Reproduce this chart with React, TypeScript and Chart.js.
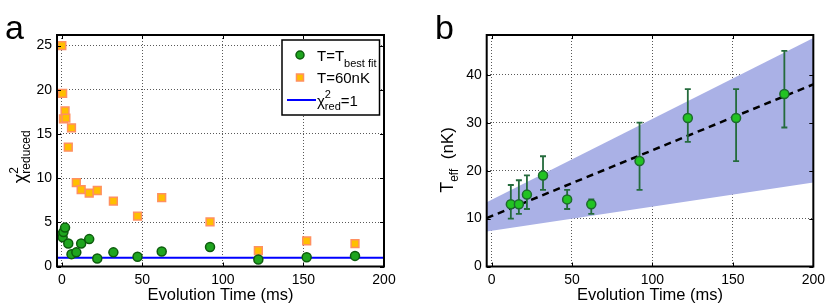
import React, { useEffect, useRef } from "react";
import { Chart, registerables } from "chart.js";
Chart.register(...registerables);

const FONT = '"Liberation Sans", Arial, Helvetica, sans-serif';

// ---------- Panel a data ----------
const timesBest = [0, 0.5, 1, 2, 4, 6, 9, 12, 17, 22, 32, 47, 62, 92, 122, 152, 182];
const chiBestFit = [3.6, 3.3, 3.9, 4.4, 2.6, 1.4, 1.6, 2.6, 3.1, 0.9, 1.6, 1.1, 1.7, 2.2, 0.8, 1.05, 1.2];
const times60 = [0, 0.5, 1, 2, 2.5, 4, 6, 9, 12, 17, 22, 32, 47, 62, 92, 122, 152, 182];
const chi60nK = [25.0, 19.6, 16.7, 17.6, 16.8, 13.5, 15.7, 9.5, 8.7, 8.3, 8.6, 7.4, 5.7, 7.8, 5.05, 1.8, 2.9, 2.6];
const refLineX = [-3, 200];
const chiRef = 1;
const xTicks = [0, 50, 100, 150, 200];
const yTicksA = [0, 5, 10, 15, 20, 25];

// ---------- Panel b data ----------
const timesB = [12, 17, 22, 32, 47, 62, 92, 122, 152, 182];
const teff = [13, 13, 15, 19, 14, 13, 22, 31, 31, 36];
const teffLow = [10, 11, 12, 16, 12, 11, 16, 26, 22, 29];
const teffHigh = [17, 18, 19, 23, 16, 14, 30, 37, 37, 45];
const fitX = [-3, 200];
const fitY = [10.1, 38.0];
const bandUpper = [13.4, 47.7];
const bandLower = [7.3, 17.5];
const yTicksB = [0, 10, 20, 30, 40];

type Part = { t: string; size: number; dy?: number; stack?: boolean };

function drawRich(ctx: CanvasRenderingContext2D, parts: Part[], x: number, y: number, align: "left" | "center") {
  const ws = parts.map((p) => {
    ctx.font = `${p.size}px ${FONT}`;
    return ctx.measureText(p.t).width;
  });
  const pos: number[] = [];
  let cursor = 0;
  let held = 0;
  parts.forEach((p, k) => {
    pos.push(cursor);
    if (p.stack) held = Math.max(held, ws[k]);
    else {
      cursor += Math.max(held, ws[k]);
      held = 0;
    }
  });
  const total = cursor + held;
  const start = align === "center" ? x - total / 2 : x;
  ctx.textAlign = "left";
  ctx.textBaseline = "alphabetic";
  ctx.fillStyle = "#000";
  parts.forEach((p, k) => {
    ctx.font = `${p.size}px ${FONT}`;
    ctx.fillText(p.t, start + pos[k], y + (p.dy || 0));
  });
}

function frameAndTicks(chart: any, yTicks: number[]) {
  const ctx: CanvasRenderingContext2D = chart.ctx;
  const { left, right, top, bottom } = chart.chartArea;
  const xs = chart.scales.x;
  const ys = chart.scales.y;
  ctx.save();
  ctx.strokeStyle = "#000";
  ctx.lineWidth = 1;
  const tl = 4;
  ctx.beginPath();
  xTicks.forEach((v) => {
    const px = Math.round(xs.getPixelForValue(v)) + 0.5;
    ctx.moveTo(px, bottom);
    ctx.lineTo(px, bottom - tl);
    ctx.moveTo(px, top);
    ctx.lineTo(px, top + tl);
  });
  yTicks.forEach((v) => {
    const py = Math.round(ys.getPixelForValue(v)) + 0.5;
    ctx.moveTo(left, py);
    ctx.lineTo(left + tl, py);
    ctx.moveTo(right, py);
    ctx.lineTo(right - tl, py);
  });
  ctx.stroke();
  ctx.lineWidth = 2;
  ctx.strokeRect(left, top, right - left, bottom - top);
  ctx.restore();
}

function axisOpts(min: number, max: number, ticks: number[], isX: boolean, size: number) {
  return {
    type: "linear",
    min,
    max,
    afterBuildTicks: (s: any) => {
      s.ticks = ticks.map((v) => ({ value: v }));
    },
    afterFit: (s: any) => {
      if (isX) s.height = size;
      else s.width = size;
    },
    grid: { display: true, drawTicks: false, color: "rgba(0,0,0,0.65)", lineWidth: 1 },
    border: { display: false, dash: [1, 2] },
    ticks: {
      color: "#000",
      font: { family: FONT, size: 14 },
      padding: 5,
      maxRotation: 0,
      autoSkip: false,
    },
  };
}

export default function App() {
  const refA = useRef<HTMLCanvasElement>(null);
  const refB = useRef<HTMLCanvasElement>(null);

  useEffect(() => {
    const decorA = {
      id: "decorA",
      afterDraw(chart: any) {
        const ctx: CanvasRenderingContext2D = chart.ctx;
        const { left, right, top, bottom } = chart.chartArea;
        frameAndTicks(chart, yTicksA);
        ctx.save();
        drawRich(ctx, [{ t: "Evolution Time (ms)", size: 16.5 }], (left + right) / 2, 300, "center");
        ctx.save();
        ctx.translate(26, (top + bottom) / 2 + 6);
        ctx.rotate(-Math.PI / 2);
        drawRich(
          ctx,
          [
            { t: "\u03c7", size: 18 },
            { t: "2", size: 12, dy: -8, stack: true },
            { t: "reduced", size: 12, dy: 4 },
          ],
          0,
          0,
          "center"
        );
        ctx.restore();
        ctx.font = `34px ${FONT}`;
        ctx.fillStyle = "#000";
        ctx.textAlign = "left";
        ctx.textBaseline = "alphabetic";
        ctx.fillText("a", 5, 39);
        // legend
        const lx0 = 282, lx1 = 379.5, ly0 = 40, ly1 = 115;
        ctx.fillStyle = "#fff";
        ctx.fillRect(lx0, ly0, lx1 - lx0, ly1 - ly0);
        ctx.strokeStyle = "#000";
        ctx.lineWidth = 1.5;
        ctx.strokeRect(lx0, ly0, lx1 - lx0, ly1 - ly0);
        ctx.beginPath();
        ctx.arc(300, 55, 4, 0, Math.PI * 2);
        ctx.fillStyle = "#1fa51f";
        ctx.fill();
        ctx.lineWidth = 1.5;
        ctx.strokeStyle = "#0d5c0d";
        ctx.stroke();
        drawRich(ctx, [{ t: "T=T", size: 15 }, { t: "best fit", size: 11, dy: 6 }], 317, 61, "left");
        ctx.fillStyle = "#ffbf00";
        ctx.strokeStyle = "#ff9060";
        ctx.lineWidth = 1.5;
        ctx.fillRect(296.5, 74, 7, 7);
        ctx.strokeRect(296.5, 74, 7, 7);
        drawRich(ctx, [{ t: "T=60nK", size: 15 }], 317, 83, "left");
        ctx.beginPath();
        ctx.moveTo(287, 100);
        ctx.lineTo(316, 100);
        ctx.strokeStyle = "#0000ff";
        ctx.lineWidth = 2;
        ctx.stroke();
        drawRich(
          ctx,
          [
            { t: "\u03c7", size: 15 },
            { t: "2", size: 11, dy: -8, stack: true },
            { t: "red", size: 11, dy: 4 },
            { t: "=1", size: 15 },
          ],
          317,
          106,
          "left"
        );
        ctx.restore();
      },
    };

    const chartA = new Chart(refA.current as HTMLCanvasElement, {
      type: "line",
      data: {
        datasets: [
          {
            label: "T=Tbest fit",
            data: timesBest.map((t, i) => ({ x: t, y: chiBestFit[i] })),
            showLine: false,
            pointStyle: "circle",
            pointRadius: 4.5,
            pointBackgroundColor: "#1fa51f",
            pointBorderColor: "#0d5c0d",
            pointBorderWidth: 1.5,
            clip: false,
          },
          {
            label: "T=60nK",
            data: times60.map((t, i) => ({ x: t, y: chi60nK[i] })),
            showLine: false,
            pointStyle: "rect",
            pointRadius: 5.5,
            pointBackgroundColor: "#ffbf00",
            pointBorderColor: "#ff9060",
            pointBorderWidth: 1.5,
            clip: false,
          },
          {
            label: "chi2red=1",
            data: refLineX.map((x) => ({ x, y: chiRef })),
            borderColor: "#0000ff",
            borderWidth: 2,
            pointRadius: 0,
            fill: false,
          },
        ],
      } as any,
      options: {
        responsive: false,
        maintainAspectRatio: false,
        devicePixelRatio: 1,
        animation: false,
        events: [],
        layout: { padding: { left: 0, top: 35, right: 36, bottom: 0 } },
        plugins: { legend: { display: false }, tooltip: { enabled: false } },
        scales: {
          x: axisOpts(-3, 200, xTicks, true, 39.5),
          y: axisOpts(0, 26.2, yTicksA, false, 57),
        },
      } as any,
      plugins: [decorA],
    });

    const decorB = {
      id: "decorB",
      beforeDatasetDraw(chart: any, args: any) {
        if (args.index !== 0) return;
        const ctx: CanvasRenderingContext2D = chart.ctx;
        const xs = chart.scales.x;
        const ys = chart.scales.y;
        ctx.save();
        ctx.strokeStyle = "#246b3c";
        ctx.lineWidth = 1.8;
        ctx.beginPath();
        timesB.forEach((t, i) => {
          const px = xs.getPixelForValue(t);
          const pLo = ys.getPixelForValue(teffLow[i]);
          const pHi = ys.getPixelForValue(teffHigh[i]);
          ctx.moveTo(px, pLo);
          ctx.lineTo(px, pHi);
          ctx.moveTo(px - 3, pLo);
          ctx.lineTo(px + 3, pLo);
          ctx.moveTo(px - 3, pHi);
          ctx.lineTo(px + 3, pHi);
        });
        ctx.stroke();
        ctx.restore();
      },
      afterDraw(chart: any) {
        const ctx: CanvasRenderingContext2D = chart.ctx;
        const { left, right } = chart.chartArea;
        frameAndTicks(chart, yTicksB);
        ctx.save();
        drawRich(ctx, [{ t: "Evolution Time (ms)", size: 16.5 }], (left + right) / 2, 300, "center");
        ctx.save();
        ctx.translate(33, 160);
        ctx.rotate(-Math.PI / 2);
        drawRich(
          ctx,
          [
            { t: "T", size: 18 },
            { t: "eff", size: 12, dy: 5 },
            { t: "  (nK)", size: 17 },
          ],
          0,
          0,
          "center"
        );
        ctx.restore();
        ctx.font = `34px ${FONT}`;
        ctx.fillStyle = "#000";
        ctx.textAlign = "left";
        ctx.textBaseline = "alphabetic";
        ctx.fillText("b", 15, 38.5);
        ctx.restore();
      },
    };

    const chartB = new Chart(refB.current as HTMLCanvasElement, {
      type: "line",
      data: {
        datasets: [
          {
            label: "Teff",
            data: timesB.map((t, i) => ({ x: t, y: teff[i] })),
            showLine: false,
            pointStyle: "circle",
            pointRadius: 4.5,
            pointBackgroundColor: "#22c322",
            pointBorderColor: "#1d6a2d",
            pointBorderWidth: 1.5,
            clip: false,
          },
          {
            label: "fit",
            data: fitX.map((x, i) => ({ x, y: fitY[i] })),
            borderColor: "#000",
            borderWidth: 2.5,
            borderDash: [7, 5],
            pointRadius: 0,
            fill: false,
          },
          {
            label: "band upper",
            data: fitX.map((x, i) => ({ x, y: bandUpper[i] })),
            borderWidth: 0,
            borderColor: "rgba(0,0,0,0)",
            backgroundColor: "#aab1e6",
            pointRadius: 0,
            fill: 3,
          },
          {
            label: "band lower",
            data: fitX.map((x, i) => ({ x, y: bandLower[i] })),
            borderWidth: 0,
            borderColor: "rgba(0,0,0,0)",
            pointRadius: 0,
            fill: false,
          },
        ],
      } as any,
      options: {
        responsive: false,
        maintainAspectRatio: false,
        devicePixelRatio: 1,
        animation: false,
        events: [],
        layout: { padding: { left: 0, top: 35, right: 16.5, bottom: 0 } },
        plugins: { legend: { display: false }, tooltip: { enabled: false } },
        scales: {
          x: axisOpts(-3, 200, xTicks, true, 39.5),
          y: axisOpts(0, 48.3, yTicksB, false, 66.7),
        },
      } as any,
      plugins: [decorB],
    });

    return () => {
      chartA.destroy();
      chartB.destroy();
    };
  }, []);

  return (
    <div style={{ position: "fixed", left: 0, top: 0, width: 830, height: 306, background: "#fff" }}>
      <canvas
        ref={refA}
        width={420}
        height={306}
        style={{ position: "absolute", left: 0, top: 0, width: 420, height: 306, display: "block" }}
      />
      <canvas
        ref={refB}
        width={410}
        height={306}
        style={{ position: "absolute", left: 420, top: 0, width: 410, height: 306, display: "block" }}
      />
    </div>
  );
}
